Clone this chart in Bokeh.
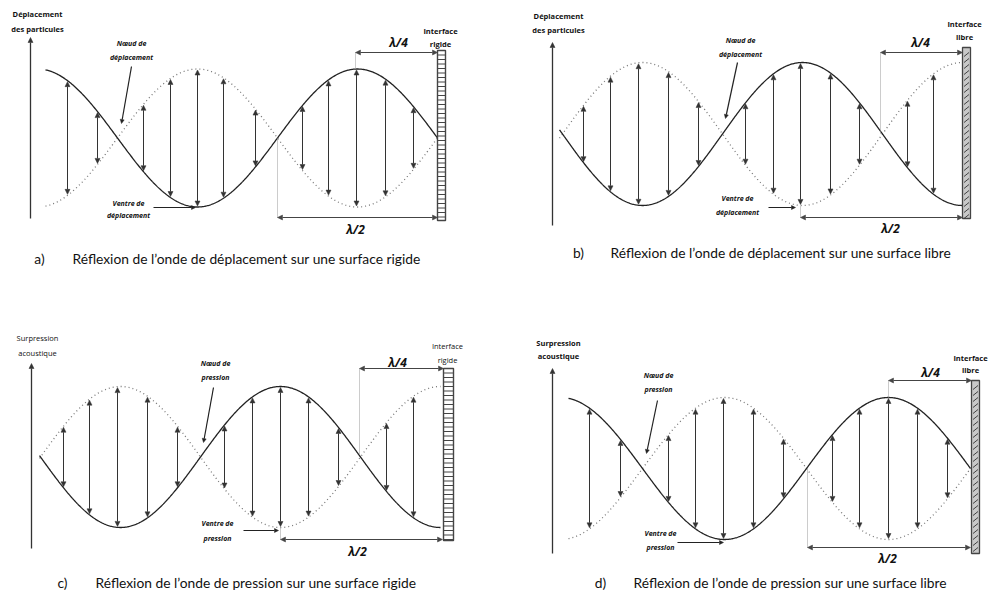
import numpy as np
from bokeh.plotting import figure
from bokeh.models import Range1d, Arrow, NormalHead, ColumnDataSource
from bokeh.core.properties import value
from bokeh.embed import file_html
from bokeh.resources import INLINE

# ---------------- data ----------------
# wave parameters: wavelength, amplitude, mid-line, wall position, start, wall type ("node"/"antinode")
A_WAVE = dict(lam=320, amp=69, mid=137.5, wall=437, start=45, kind="node")
B_WAVE = dict(lam=320, amp=71.5, mid=133.5, wall=962, start=559, kind="antinode")
C_WAVE = dict(lam=320, amp=70.5, mid=456.5, wall=440, start=39, kind="antinode")
D_WAVE = dict(lam=328, amp=71, mid=468, wall=970, start=568, kind="node")

A_ARROWS = [67, 97, 143, 170, 197, 223, 255, 302, 328, 356, 385, 413]
B_ARROWS = [583, 610, 638, 668, 698, 745, 773, 800, 830, 859, 907, 933]
C_ARROWS = [63, 89, 117, 147, 177, 224, 252, 280, 308, 338, 386, 413]
D_ARROWS = [589, 620, 668, 695, 723, 753, 783, 832, 859, 888, 917, 947]

A_TEXT = dict(axis=["Déplacement", "des particules"], node=["Nœud de", "déplacement"],
              belly=["Ventre de", "déplacement"], wall=["Interface", "rigide"],
              tag="a)", caption="Réflexion de l’onde de déplacement sur une surface rigide")
B_TEXT = dict(axis=["Déplacement", "des particules"], node=["Nœud de", "déplacement"],
              belly=["Ventre de", "déplacement"], wall=["Interface", "libre"],
              tag="b)", caption="Réflexion de l’onde de déplacement sur une surface libre")
C_TEXT = dict(axis=["Surpression", "acoustique"], node=["Nœud de", "pression"],
              belly=["Ventre de", "pression"], wall=["Interface", "rigide"],
              tag="c)", caption="Réflexion de l’onde de pression sur une surface rigide")
D_TEXT = dict(axis=["Surpression", "acoustique"], node=["Nœud de", "pression"],
              belly=["Ventre de", "pression"], wall=["Interface", "libre"],
              tag="d)", caption="Réflexion de l’onde de pression sur une surface libre")

# ---------------- layout ----------------
A_LAY = dict(axis=(30, 218, 37), axis_lbl=(37, 13, 28), axis_bold=True,
             wall=(437, 445, 50, 220), wall_type="rigid", wall_lbl=(440, 30, 43), wall_bold=True,
             q=(355, 437, 52, 68), q_lbl=(398, 42), h=(277, 437, 217, 137), h_lbl=(355, 229),
             node_lbl=(131, 43, 57), node_ptr=(131, 66, 121, 123),
             belly_lbl=(128, 203, 215), belly_ptr=(153, 207, 195, 207),
             tag=(39, 258), cap_x=72)
B_LAY = dict(axis=(552, 225, 42), axis_lbl=(558, 15, 29), axis_bold=True,
             wall=(962, 970, 47, 218), wall_type="free", wall_lbl=(964, 23, 36), wall_bold=True,
             q=(880, 962, 52, 133), q_lbl=(920, 42), h=(800, 962, 217, 205), h_lbl=(890, 228),
             node_lbl=(740, 40, 54), node_ptr=(737, 62, 725, 118),
             belly_lbl=(737, 198, 212), belly_ptr=(768, 207, 795, 207),
             tag=(578, 252), cap_x=610)
C_LAY = dict(axis=(31, 548, 363), axis_lbl=(37, 337, 352), axis_bold=False,
             wall=(443, 453, 368, 540), wall_type="rigid", wall_lbl=(447, 345, 359), wall_bold=False,
             q=(359, 443, 368, 454), q_lbl=(397, 362), h=(280, 442, 539, 527), h_lbl=(357, 551),
             node_lbl=(215, 363, 377), node_ptr=(213, 387, 203, 442),
             belly_lbl=(217, 523, 538), belly_ptr=(243, 530, 278, 530),
             tag=(62, 582), cap_x=95)
D_LAY = dict(axis=(552, 553, 368), axis_lbl=(558, 342, 355), axis_bold=True,
             wall=(971, 979, 380, 553), wall_type="free", wall_lbl=(970, 357, 369), wall_bold=True,
             q=(888, 971, 380, 397), q_lbl=(930, 372), h=(807, 970, 547, 468), h_lbl=(887, 558),
             node_lbl=(658, 375, 389), node_ptr=(657, 400, 646, 453),
             belly_lbl=(660, 533, 547), belly_ptr=(677, 542, 723, 542),
             tag=(600, 582), cap_x=633)

W, H = 990, 592
p = figure(width=W, height=H, x_range=Range1d(0, W), y_range=Range1d(H, 0),
           output_backend="svg", toolbar_location=None, min_border=0,
           x_axis_location=None, y_axis_location=None, outline_line_color=None,
           background_fill_color="white", border_fill_color="white")
p.grid.visible = False

SMALL = value("Open Sans")
CAP = value("Lato")


def wave(P, x):
    ph = 2 * np.pi * (np.asarray(x, float) - P["wall"]) / P["lam"]
    s = np.sin(ph) if P["kind"] == "node" else np.cos(ph)
    return P["mid"] + P["amp"] * s


def txt(x, y, t, size="7.5px", style="bold", align="center", color="#111", font=SMALL):
    p.text(x=x, y=y, text=t, text_font=font, text_font_size=size, text_font_style=style,
           text_align=align, text_baseline="middle", text_color=color)


def arrows(x0, y0, x1, y1, color, size, both=True, width=1.0):
    src = ColumnDataSource(dict(x0=list(x0), y0=list(y0), x1=list(x1), y1=list(y1)))
    head = lambda: NormalHead(size=size, fill_color=color, line_color=color, line_width=0.5)
    p.add_layout(Arrow(start=head() if both else None, end=head(), source=src,
                       x_start="x0", y_start="y0", x_end="x1", y_end="y1",
                       line_color=color, line_width=width))


def panel(P, AX, T, L):
    xs = np.linspace(P["start"], P["wall"], 500)
    solid = wave(P, xs)
    dotted = 2 * P["mid"] - solid
    p.line(xs, dotted, line_color="#777", line_width=1.3, line_dash="1 3")
    p.line(xs, solid, line_color="#222", line_width=1.3)

    # standing-wave arrows between the two envelopes
    ax = np.array(AX, float)
    ys = wave(P, ax)
    yd = 2 * P["mid"] - ys
    sgn = np.sign(yd - ys)
    arrows(ax, ys + sgn * 1.0, ax, yd - sgn * 1.0, "#333", 5)

    # vertical axis
    x, yb, yt = L["axis"]
    arrows([x], [yb], [x], [yt], "#333", 5, both=False, width=1.3)
    lx, l1, l2 = L["axis_lbl"]
    st = "bold" if L["axis_bold"] else "normal"
    txt([lx], [l1], [T["axis"][0]], style=st)
    txt([lx], [l2], [T["axis"][1]], style=st)

    # wall
    x0, x1, y0, y1 = L["wall"]
    if L["wall_type"] == "rigid":
        p.quad(left=[x0], right=[x1], top=[y0], bottom=[y1], fill_color="white",
               line_color="#444", line_width=1.4)
        yy = np.arange(y0 + 4.5, y1, 4.5)
        p.segment(x0=[x0] * len(yy), y0=yy, x1=[x1] * len(yy), y1=yy, line_color="#444", line_width=1.0)
    else:
        p.quad(left=[x0], right=[x1], top=[y0], bottom=[y1], fill_color="#c8c8c8",
               line_color="#444", line_width=1.3)
        yy = np.arange(y0 + 6, y1, 6)
        p.segment(x0=[x0 + 1.5] * len(yy), y0=yy + 3, x1=[x1 - 1.5] * len(yy), y1=yy - 1,
                  line_color="#333", line_width=0.9)
    wx, w1, w2 = L["wall_lbl"]
    st = "bold" if L["wall_bold"] else "normal"
    txt([wx], [w1], [T["wall"][0]], style=st)
    txt([wx], [w2], [T["wall"][1]], style=st)

    # lambda/4 dimension
    qa, qb, qy, qv = L["q"]
    p.segment(x0=[qa], y0=[qy], x1=[qa], y1=[qv], line_color="#999", line_width=1, line_dash="1 1")
    arrows([qa], [qy], [qb], [qy], "#444", 5)
    txt([L["q_lbl"][0]], [L["q_lbl"][1]], ["λ/4"], size="12px", style="bold italic")

    # lambda/2 dimension
    ha, hb, hy, hv = L["h"]
    p.segment(x0=[ha], y0=[hy], x1=[ha], y1=[hv], line_color="#999", line_width=1, line_dash="1 1")
    arrows([ha], [hy], [hb], [hy], "#444", 5)
    txt([L["h_lbl"][0]], [L["h_lbl"][1]], ["λ/2"], size="12px", style="bold italic")

    # node / antinode pointers
    nx, n1, n2 = L["node_lbl"]
    txt([nx], [n1], [T["node"][0]], size="7px", style="bold italic")
    txt([nx], [n2], [T["node"][1]], size="7px", style="bold italic")
    a0, b0, a1, b1 = L["node_ptr"]
    arrows([a0], [b0], [a1], [b1], "#222", 4, both=False, width=1.2)

    bx, v1, v2 = L["belly_lbl"]
    txt([bx], [v1], [T["belly"][0]], size="7px", style="bold italic")
    txt([bx], [v2], [T["belly"][1]], size="7px", style="bold italic")
    a0, b0, a1, b1 = L["belly_ptr"]
    arrows([a0], [b0], [a1], [b1], "#222", 4, both=False, width=1.2)

    # caption
    tx, ty = L["tag"]
    txt([tx], [ty], [T["tag"]], size="13.8px", style="normal", font=CAP)
    txt([L["cap_x"]], [ty], [T["caption"]], size="13.8px", style="normal", align="left", font=CAP)


panel(A_WAVE, A_ARROWS, A_TEXT, A_LAY)
panel(B_WAVE, B_ARROWS, B_TEXT, B_LAY)
panel(C_WAVE, C_ARROWS, C_TEXT, C_LAY)
panel(D_WAVE, D_ARROWS, D_TEXT, D_LAY)

open("out.html", "w").write(file_html(p, INLINE))
